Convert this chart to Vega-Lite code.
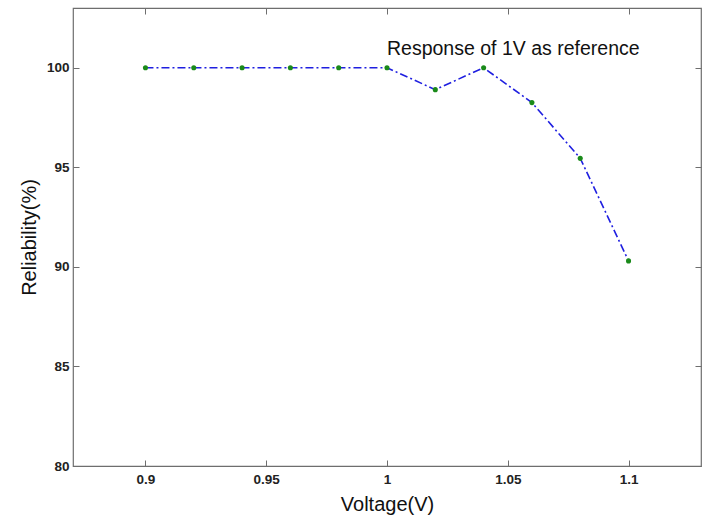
{
  "$schema": "https://vega.github.io/schema/vega-lite/v6.json",
  "width": 628,
  "height": 458,
  "autosize": {"type": "none"},
  "padding": {"left": 73, "top": 8, "right": 2, "bottom": 51},
  "background": "white",
  "config": {
    "view": {"stroke": "#6e6e6e", "strokeWidth": 1.2},
    "font": "Liberation Sans",
    "axis": {
      "domain": false,
      "grid": false,
      "tickColor": "#6e6e6e",
      "tickSize": -6,
      "labelFont": "Liberation Sans",
      "labelFontSize": 13.5,
      "labelFontWeight": "bold",
      "labelColor": "#222",
      "titleFont": "Liberation Sans",
      "titleFontSize": 20,
      "titleFontWeight": "normal",
      "titleColor": "#111"
    }
  },
  "resolve": {"axis": {"x": "independent", "y": "independent"}},
  "data": {
    "values": [
      {"v": 0.90, "r": 100},
      {"v": 0.92, "r": 100},
      {"v": 0.94, "r": 100},
      {"v": 0.96, "r": 100},
      {"v": 0.98, "r": 100},
      {"v": 1.00, "r": 100},
      {"v": 1.02, "r": 98.9},
      {"v": 1.04, "r": 100},
      {"v": 1.06, "r": 98.25},
      {"v": 1.08, "r": 95.45},
      {"v": 1.10, "r": 90.3}
    ]
  },
  "layer": [
    {
      "mark": {"type": "line", "color": "#1f1fe0", "strokeWidth": 1.6, "strokeDash": [8, 3, 2, 3]},
      "encoding": {
        "x": {"field": "v", "type": "quantitative", "scale": {"domain": [0.87, 1.13], "nice": false, "zero": false},
              "axis": {"orient": "bottom", "values": [0.9, 0.95, 1, 1.05, 1.1], "title": "Voltage(V)", "labelPadding": 12, "titlePadding": 9, "format": "~g"}},
        "y": {"field": "r", "type": "quantitative", "scale": {"domain": [80, 103], "nice": false, "zero": false},
              "axis": {"orient": "left", "values": [80, 85, 90, 95, 100], "title": "Reliability(%)", "labelPadding": 10, "titlePadding": 7}}
      }
    },
    {
      "mark": {"type": "circle", "color": "#1a8a1a", "size": 26, "opacity": 1},
      "encoding": {
        "x": {"field": "v", "type": "quantitative", "axis": {"orient": "top", "values": [0.9, 0.95, 1, 1.05, 1.1], "labels": false, "title": null}},
        "y": {"field": "r", "type": "quantitative", "axis": {"orient": "right", "values": [80, 85, 90, 95, 100], "labels": false, "title": null}}
      }
    },
    {
      "data": {"values": [{"v": 1.0, "r": 101, "t": "Response of 1V as reference"}]},
      "mark": {"type": "text", "align": "left", "baseline": "middle", "fontSize": 19.5, "font": "Liberation Sans", "color": "#111", "dy": 1},
      "encoding": {
        "x": {"field": "v", "type": "quantitative", "axis": null},
        "y": {"field": "r", "type": "quantitative", "axis": null},
        "text": {"field": "t"}
      }
    }
  ]
}
